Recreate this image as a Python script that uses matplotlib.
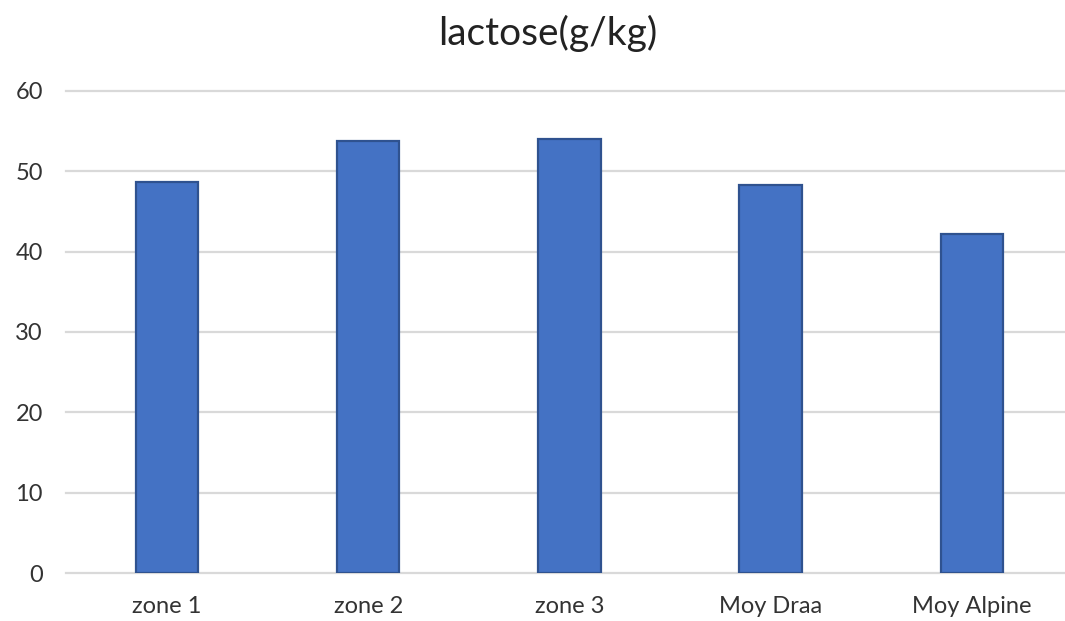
import matplotlib.pyplot as plt

categories = ['zone 1', 'zone 2', 'zone 3', 'Moy Draa', 'Moy Alpine']
lactose = [48.6, 53.7, 54.0, 48.3, 42.2]
y_ticks = [0, 10, 20, 30, 40, 50, 60]

plt.rcParams['font.family'] = ['Lato', 'DejaVu Sans']

fig = plt.figure(figsize=(10.65, 6.21), dpi=100)
ax = fig.add_axes([66.4 / 1065, 0.0768, 1006 / 1065, 0.7772])

x = range(len(categories))
ax.bar(x, lactose, width=0.31, color='#4472C4', edgecolor='#2F528F',
       linewidth=1.6, zorder=3)

ax.set_xlim(-0.5, len(categories) - 0.5)
ax.set_ylim(0, 60)
ax.set_yticks(y_ticks)
ax.set_xticks(list(x))
ax.set_xticklabels(categories)

ax.grid(axis='y', color='#d9d9d9', linewidth=1.6, zorder=0)
for line in ax.get_ygridlines():
    line.set_clip_on(False)
for s in ax.spines.values():
    s.set_visible(False)

ax.tick_params(axis='both', length=0, labelsize=17, colors='#333333')
ax.tick_params(axis='y', pad=17)
ax.tick_params(axis='x', pad=16)

fig.text(548 / 1065, 1 - 33 / 621, 'lactose(g/kg)', ha='center', va='center',
         fontsize=28, color='#222222')

fig.savefig('out.png', dpi=100)
